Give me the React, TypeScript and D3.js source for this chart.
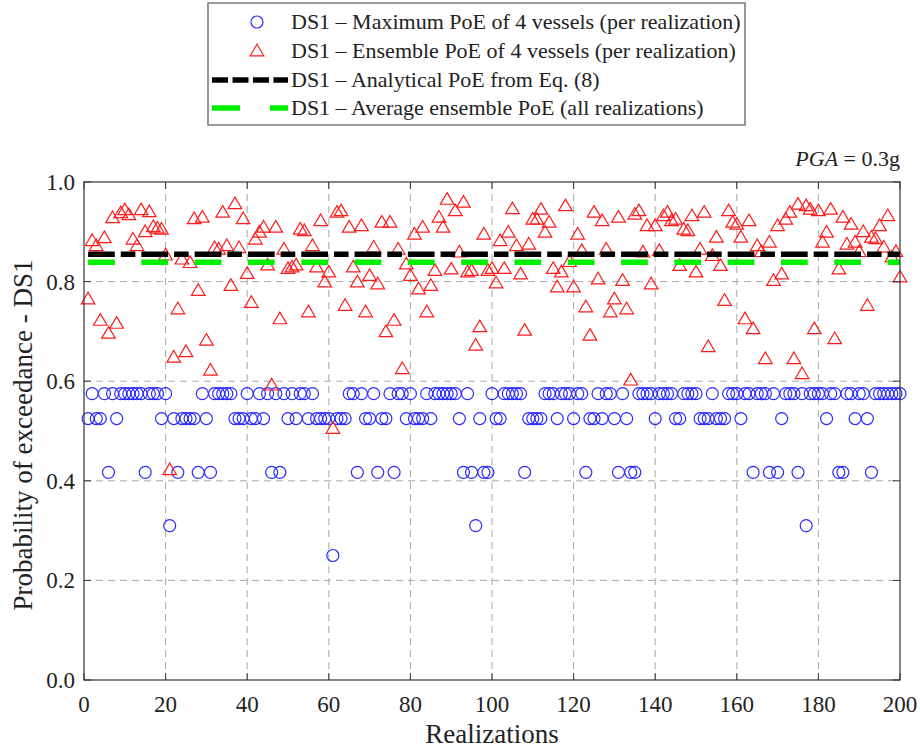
import React from "react";
import * as d3 from "d3";

// Ensemble PoE (triangles), realizations 1..200
const ensemblePoE: number[] = [
  0.765, 0.882, 0.872, 0.722, 0.888, 0.696, 0.928, 0.716, 0.938, 0.944,
  0.934, 0.885, 0.872, 0.944, 0.900, 0.940, 0.910, 0.907, 0.905, 0.853,
  0.422, 0.648, 0.745, 0.845, 0.659, 0.838, 0.926, 0.782, 0.929, 0.682,
  0.622, 0.868, 0.865, 0.939, 0.872, 0.792, 0.956, 0.868, 0.926, 0.816,
  0.758, 0.885, 0.899, 0.909, 0.833, 0.592, 0.909, 0.725, 0.865, 0.826,
  0.829, 0.833, 0.905, 0.902, 0.739, 0.872, 0.829, 0.922, 0.799, 0.819,
  0.505, 0.939, 0.942, 0.752, 0.909, 0.829, 0.799, 0.912, 0.739, 0.812,
  0.869, 0.795, 0.919, 0.699, 0.919, 0.722, 0.865, 0.625, 0.835, 0.812,
  0.895, 0.785, 0.909, 0.739, 0.792, 0.822, 0.929, 0.909, 0.965, 0.825,
  0.942, 0.859, 0.959, 0.819, 0.822, 0.672, 0.709, 0.895, 0.822, 0.826,
  0.797, 0.882, 0.826, 0.899, 0.946, 0.872, 0.815, 0.702, 0.875, 0.925,
  0.925, 0.945, 0.899, 0.919, 0.826, 0.789, 0.819, 0.952, 0.840, 0.789,
  0.895, 0.862, 0.749, 0.692, 0.939, 0.805, 0.922, 0.865, 0.739, 0.765,
  0.929, 0.802, 0.745, 0.602, 0.935, 0.942, 0.859, 0.912, 0.795, 0.912,
  0.862, 0.932, 0.939, 0.922, 0.925, 0.832, 0.905, 0.902, 0.932, 0.819,
  0.865, 0.939, 0.669, 0.852, 0.889, 0.832, 0.762, 0.942, 0.919, 0.915,
  0.889, 0.725, 0.922, 0.705, 0.872, 0.860, 0.645, 0.879, 0.802, 0.912,
  0.815, 0.925, 0.939, 0.645, 0.955, 0.615, 0.952, 0.945, 0.705, 0.942,
  0.879, 0.899, 0.945, 0.685, 0.825, 0.929, 0.875, 0.915, 0.879, 0.860,
  0.900, 0.752, 0.889, 0.886, 0.912, 0.869, 0.932, 0.849, 0.860, 0.809,
];

// Maximum PoE (circles): discrete levels; realizations listed per level, others at the top level
const maxLevels = [0.575, 0.525, 0.417, 0.31, 0.25];
const level2Realizations = [1, 3, 4, 8, 19, 22, 24, 25, 26, 27, 30, 37, 38, 39, 41, 42, 44, 50, 52, 55, 57, 58, 59, 60, 62, 63, 64, 69, 70, 73, 74, 79, 81, 82, 83, 85, 92, 97, 101, 102, 109, 110, 111, 112, 116, 120, 124, 125, 127, 130, 133, 140, 145, 146, 151, 152, 153, 155, 156, 157, 161, 171, 182, 189, 192];
const level3Realizations = [6, 15, 23, 28, 31, 46, 48, 67, 72, 76, 93, 95, 98, 99, 108, 123, 131, 134, 135, 164, 168, 170, 175, 185, 186, 193];
const level4Realizations = [21, 96, 177];
const level5Realizations = [61];

const analyticalPoE = 0.855;
const averageEnsemblePoE = 0.839;

const xTicks = [0, 20, 40, 60, 80, 100, 120, 140, 160, 180, 200];
const yTicks = [0, 0.2, 0.4, 0.6, 0.8, 1.0];

const legendLabels = [
  "DS1 \u2013 Maximum PoE of 4 vessels (per realization)",
  "DS1 \u2013 Ensemble PoE of 4 vessels (per realization)",
  "DS1 \u2013 Analytical PoE from Eq. (8)",
  "DS1 \u2013 Average ensemble PoE (all realizations)",
];

const realizations = d3.range(1, 201);
const maxPoE = realizations.map((r) => {
  if (level5Realizations.includes(r)) return maxLevels[4];
  if (level4Realizations.includes(r)) return maxLevels[3];
  if (level3Realizations.includes(r)) return maxLevels[2];
  if (level2Realizations.includes(r)) return maxLevels[1];
  return maxLevels[0];
});

const FONT = "Liberation Serif, Times New Roman, serif";

export default function App() {
  const W = 920, H = 749;
  const L = 84, R = 900, T = 182, B = 680;
  const x = d3.scaleLinear().domain([0, 200]).range([L, R]);
  const y = d3.scaleLinear().domain([0, 1]).range([B, T]);
  const tri = "M0,-6.8L6.8,4.8L-6.8,4.8Z";
  const blue = "#2a2aff";
  const red = "#ff1a1a";
  const green = "#00ee00";
  const tickLen = 7;
  const txt = { fontFamily: FONT };

  return (
    <svg width={W} height={H} style={{ position: "absolute", left: 0, top: 0, background: "#fff", fontFamily: FONT }}>
      <rect x={0} y={0} width={W} height={H} fill="#fff" />
      {/* grid */}
      {xTicks.slice(1, -1).map((t) => (
        <line key={"gx" + t} x1={x(t)} x2={x(t)} y1={T} y2={B} stroke="#a8a8a8" strokeDasharray="7,5" strokeWidth={1} />
      ))}
      {yTicks.slice(1, -1).map((t) => (
        <line key={"gy" + t} x1={L} x2={R} y1={y(t)} y2={y(t)} stroke="#a8a8a8" strokeDasharray="7,5" strokeWidth={1} />
      ))}
      {/* circles */}
      {maxPoE.map((v, i) => (
        <circle key={"c" + i} cx={x(realizations[i])} cy={y(v)} r={6} fill="none" stroke={blue} strokeWidth={1.2} />
      ))}
      {/* triangles */}
      {ensemblePoE.map((v, i) => (
        <path key={"t" + i} d={tri} transform={`translate(${x(realizations[i])},${y(v)})`} fill="none" stroke={red} strokeWidth={1.2} />
      ))}
      {/* analytical and average lines */}
      <line x1={x(1)} x2={x(200)} y1={y(analyticalPoE)} y2={y(analyticalPoE)} stroke="#000" strokeWidth={5.5} strokeDasharray="26.7,6,14.6,6" />
      <line x1={x(1)} x2={x(200)} y1={y(averageEnsemblePoE)} y2={y(averageEnsemblePoE)} stroke={green} strokeWidth={5.5} strokeDasharray="26.7,26.6" />
      {/* frame */}
      <rect x={L} y={T} width={R - L} height={B - T} fill="none" stroke="#333" strokeWidth={1.2} />
      {xTicks.map((t) => (
        <g key={"xt" + t}>
          <line x1={x(t)} x2={x(t)} y1={B} y2={B - tickLen} stroke="#333" />
          <line x1={x(t)} x2={x(t)} y1={T} y2={T + tickLen} stroke="#333" />
          <text x={x(t)} y={712} textAnchor="middle" fontSize={23} fill="#222" style={txt}>{t}</text>
        </g>
      ))}
      {yTicks.map((t) => (
        <g key={"yt" + t}>
          <line x1={L} x2={L + tickLen} y1={y(t)} y2={y(t)} stroke="#333" />
          <line x1={R} x2={R - tickLen} y1={y(t)} y2={y(t)} stroke="#333" />
          <text x={75} y={y(t) + 8} textAnchor="end" fontSize={23} fill="#222" style={txt}>{t.toFixed(1)}</text>
        </g>
      ))}
      <text x={(L + R) / 2} y={743} textAnchor="middle" fontSize={27} fill="#222" style={txt}>Realizations</text>
      <text transform={`translate(32,${(T + B) / 2 + 4}) rotate(-90)`} textAnchor="middle" fontSize={27} fill="#222" style={txt}>Probability of exceedance - DS1</text>
      <text x={900} y={166} textAnchor="end" fontSize={22} fill="#222" style={txt}><tspan fontStyle="italic">PGA</tspan> = 0.3g</text>
      {/* legend */}
      <rect x={208} y={3} width={537} height={122} fill="#fff" stroke="#777" strokeWidth={1.5} />
      <circle cx={257} cy={22} r={6} fill="none" stroke={blue} strokeWidth={1.2} />
      <path d={tri} transform="translate(257,51)" fill="none" stroke={red} strokeWidth={1.2} />
      <line x1={212} x2={288} y1={80} y2={80} stroke="#000" strokeWidth={5.5} strokeDasharray="16,4.5" />
      <line x1={212} x2={288} y1={108} y2={108} stroke={green} strokeWidth={5.5} strokeDasharray="28,30" />
      {legendLabels.map((s, i) => (
        <text key={"lg" + i} x={291} y={[29, 58, 87, 115][i]} fontSize={22} fill="#222" style={txt}>{s}</text>
      ))}
    </svg>
  );
}
